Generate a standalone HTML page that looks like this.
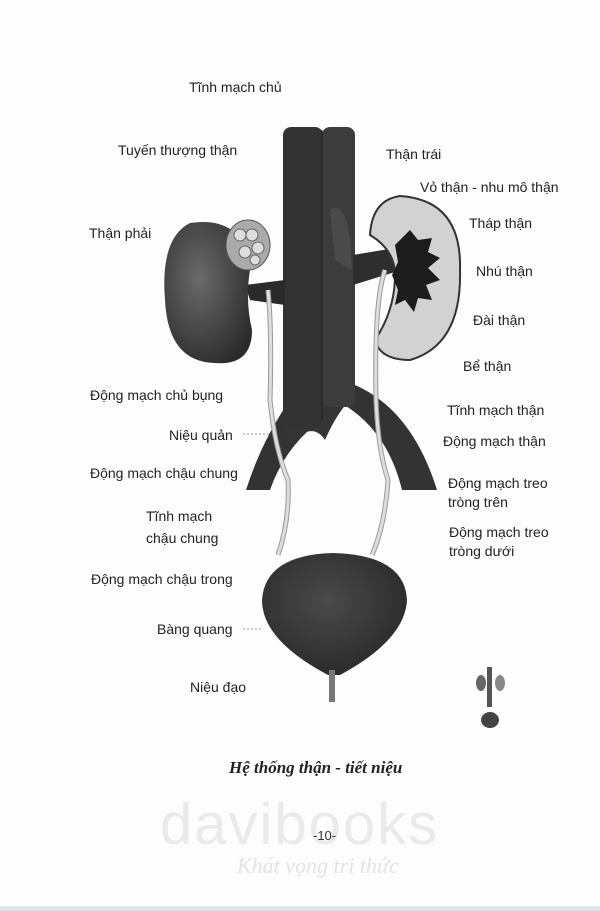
<!DOCTYPE html>
<html><head><meta charset="utf-8"><style>
body{margin:0;background:#fff;}
.w{position:relative;width:600px;height:911px;overflow:hidden;background:#fdfdfd;font-family:"Liberation Sans",sans-serif;}
.t{position:absolute;font-size:14px;color:#222;white-space:nowrap;line-height:20px;}
</style></head><body><div class="w">
<svg width="600" height="911" style="position:absolute;left:0;top:0">
<defs>
<radialGradient id="k" cx="40%" cy="40%" r="70%"><stop offset="0" stop-color="#6a6a6a"/><stop offset="1" stop-color="#2a2a2a"/></radialGradient>
<radialGradient id="b" cx="45%" cy="40%" r="70%"><stop offset="0" stop-color="#4a4a4a"/><stop offset="1" stop-color="#262626"/></radialGradient>
</defs>
<!-- iliac branches -->
<path d="M290 400 Q262 440 246 490 L270 490 Q284 450 315 425 Z" fill="#333"/>
<path d="M325 395 Q385 420 402 490 L437 490 Q412 410 355 385 Z" fill="#333"/>
<path d="M283 340 L355 340 L355 395 Q338 410 325 440 Q312 420 288 445 L283 400 Z" fill="#353535"/>
<!-- vessels -->
<rect x="283" y="127" width="40" height="300" rx="8" fill="#333"/>
<rect x="322" y="127" width="33" height="280" rx="8" fill="#3c3c3c"/>
<line x1="322" y1="130" x2="322" y2="420" stroke="#222" stroke-width="1"/>
<!-- renal vessels -->
<path d="M245 285 L285 280 L285 305 L250 300 Z" fill="#2a2a2a"/>
<path d="M353 255 L395 248 L395 272 L353 285 Z" fill="#2e2e2e"/>
<path d="M330 210 Q345 200 350 240 L352 270 L335 260 Z" fill="#4a4a4a"/>
<!-- right kidney -->
<path d="M190 223 Q245 215 250 270 Q245 300 252 330 Q252 366 215 363 Q168 362 165 300 Q160 238 190 223 Z" fill="url(#k)"/>
<!-- adrenal -->
<ellipse cx="248" cy="245" rx="22" ry="25" fill="#aaa" stroke="#555"/>
<g fill="#ddd" stroke="#666" stroke-width="1"><circle cx="240" cy="235" r="6"/><circle cx="252" cy="235" r="6"/><circle cx="258" cy="248" r="6"/><circle cx="245" cy="252" r="6"/><circle cx="255" cy="260" r="5"/></g>
<!-- left kidney -->
<path d="M400 196 Q462 200 460 270 Q462 345 410 360 Q380 360 375 340 Q395 310 395 275 Q395 250 370 235 Q372 200 400 196 Z" fill="#d2d2d2" stroke="#333" stroke-width="2"/>
<polygon points="395,245 410,230 418,240 432,238 428,252 440,258 428,268 440,280 426,285 432,300 418,298 414,312 405,300 395,305 398,290 392,275 398,262" fill="#1c1c1c"/>
<!-- ureters -->
<path d="M268 290 Q272 330 270 400 Q275 450 288 480 Q290 520 278 555" stroke="#999" stroke-width="5" fill="none"/>
<path d="M268 290 Q272 330 270 400 Q275 450 288 480 Q290 520 278 555" stroke="#ddd" stroke-width="3" fill="none"/>
<path d="M385 270 Q374 300 376 400 Q378 450 388 480 Q385 525 372 555" stroke="#999" stroke-width="5" fill="none"/>
<path d="M385 270 Q374 300 376 400 Q378 450 388 480 Q385 525 372 555" stroke="#ddd" stroke-width="3" fill="none"/>
<!-- bladder -->
<path d="M262 600 Q265 555 333 553 Q405 555 407 600 Q405 640 340 675 L328 675 Q262 640 262 600 Z" fill="url(#b)"/>
<rect x="329" y="670" width="6" height="32" fill="#777"/>
<!-- leaders -->
<g stroke="#999" stroke-dasharray="2,2"><line x1="243" y1="434" x2="270" y2="434"/><line x1="243" y1="629" x2="262" y2="629"/></g>
<!-- small icon -->
<rect x="487" y="667" width="5" height="40" fill="#555"/>
<ellipse cx="481" cy="683" rx="5" ry="8" fill="#666"/><ellipse cx="500" cy="683" rx="5" ry="8" fill="#888"/>
<ellipse cx="490" cy="720" rx="9" ry="8" fill="#444"/>
<rect x="0" y="906" width="600" height="5" fill="#d8e8ec"/>
</svg>
<div class="t" style="left:189px;top:77px">Tĩnh mạch chủ</div>
<div class="t" style="left:118px;top:140px">Tuyến thượng thận</div>
<div class="t" style="left:386px;top:144px">Thận trái</div>
<div class="t" style="left:420px;top:177px">Vỏ thận - nhu mô thận</div>
<div class="t" style="left:89px;top:223px">Thận phải</div>
<div class="t" style="left:469px;top:213px">Tháp thận</div>
<div class="t" style="left:476px;top:261px">Nhú thận</div>
<div class="t" style="left:473px;top:310px">Đài thận</div>
<div class="t" style="left:463px;top:356px">Bể thận</div>
<div class="t" style="left:90px;top:385px">Động mạch chủ bụng</div>
<div class="t" style="left:447px;top:400px">Tĩnh mạch thận</div>
<div class="t" style="left:169px;top:425px">Niệu quản</div>
<div class="t" style="left:443px;top:431px">Động mạch thận</div>
<div class="t" style="left:90px;top:463px">Động mạch chậu chung</div>
<div class="t" style="left:448px;top:473px">Động mạch treo</div>
<div class="t" style="left:448px;top:492px">tròng trên</div>
<div class="t" style="left:146px;top:506px">Tĩnh mạch</div>
<div class="t" style="left:146px;top:528px">chậu chung</div>
<div class="t" style="left:449px;top:522px">Động mạch treo</div>
<div class="t" style="left:449px;top:541px">tròng dưới</div>
<div class="t" style="left:91px;top:569px">Động mạch chậu trong</div>
<div class="t" style="left:157px;top:619px">Bàng quang</div>
<div class="t" style="left:190px;top:677px">Niệu đạo</div>
<div class="t" style="left:229px;top:758px;font-family:'Liberation Serif',serif;font-style:italic;font-weight:bold;font-size:17px;">Hệ thống thận - tiết niệu</div>
<div class="t" style="left:160px;top:790px;font-size:58px;line-height:70px;color:#eaeaea;font-family:'Liberation Sans',sans-serif;letter-spacing:2px">davibooks</div>
<div class="t" style="left:313px;top:826px;font-size:13px;color:#333">-10-</div>
<div class="t" style="left:237px;top:852px;font-size:22px;line-height:28px;color:#e3e3e3;font-family:'Liberation Serif',serif;font-style:italic">Khát vọng tri thức</div>
</div></body></html>
